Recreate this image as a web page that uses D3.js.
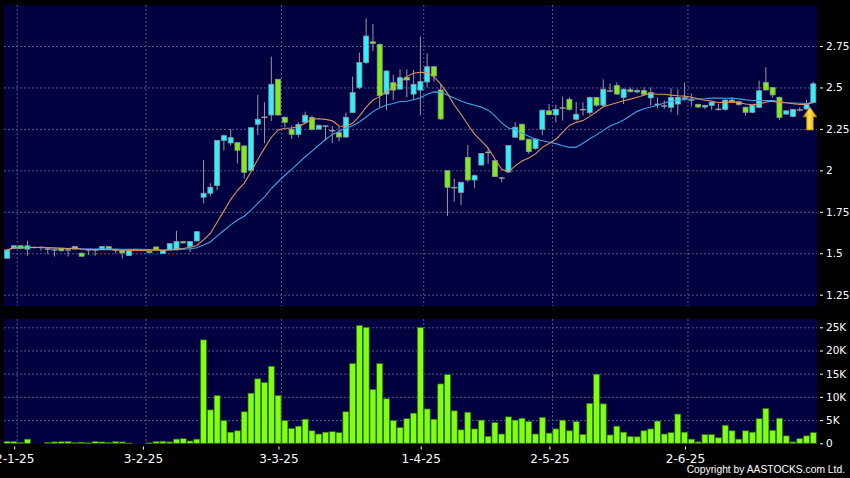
<!DOCTYPE html>
<html><head><meta charset="utf-8">
<script src="https://cdn.jsdelivr.net/npm/d3@7"></script>
<style>html,body{margin:0;padding:0;background:#000;overflow:hidden}svg{display:block}</style>
</head><body><svg id="c" width="850" height="478"></svg>
<script>
// ---- data ----
const opens  = [1.470,1.530,1.545,1.525,1.535,1.535,1.525,1.520,1.530,1.520,1.525,1.500,1.520,1.520,1.525,1.540,1.520,1.518,1.486,1.522,
 1.518,1.510,1.538,1.498,1.520,1.520,1.570,1.542,1.574,1.838,1.862,1.908,2.181,2.165,2.167,2.147,2.000,2.278,2.320,2.334,
 2.549,2.320,2.247,2.217,2.290,2.318,2.249,2.267,2.239,2.227,2.201,2.348,2.500,2.651,2.775,2.760,2.460,2.529,2.490,2.560,
 2.460,2.484,2.533,2.625,2.485,1.998,1.896,1.867,2.078,1.942,2.032,2.108,2.058,1.954,1.990,2.200,2.278,2.188,2.132,2.248,
 2.359,2.334,2.376,2.428,2.308,2.366,2.348,2.439,2.393,2.479,2.512,2.440,2.486,2.473,2.481,2.437,2.398,2.388,2.380,2.400,
 2.434,2.424,2.398,2.382,2.392,2.368,2.368,2.424,2.414,2.380,2.350,2.380,2.529,2.499,2.440,2.339,2.325,2.364,2.370,2.409];
const highs  = [1.525,1.550,1.548,1.575,1.540,1.540,1.530,1.522,1.532,1.522,1.545,1.505,1.522,1.522,1.542,1.542,1.522,1.520,1.520,1.524,
 1.520,1.512,1.540,1.520,1.560,1.635,1.574,1.572,1.632,2.062,1.922,2.181,2.215,2.250,2.170,2.150,2.260,2.455,2.410,2.686,
 2.552,2.325,2.270,2.290,2.354,2.330,2.275,2.270,2.267,2.265,2.348,2.565,2.710,2.917,2.883,2.765,2.605,2.576,2.610,2.610,
 2.605,2.806,2.705,2.630,2.515,2.000,1.950,1.930,2.152,1.975,2.105,2.135,2.060,1.958,2.152,2.290,2.282,2.190,2.192,2.365,
 2.400,2.395,2.445,2.440,2.412,2.410,2.445,2.442,2.548,2.525,2.530,2.495,2.500,2.490,2.500,2.500,2.440,2.420,2.495,2.489,
 2.530,2.464,2.402,2.395,2.415,2.400,2.428,2.440,2.420,2.385,2.395,2.541,2.621,2.502,2.445,2.362,2.370,2.380,2.425,2.535];
const lows   = [1.465,1.525,1.525,1.485,1.530,1.515,1.495,1.480,1.510,1.480,1.520,1.480,1.490,1.485,1.520,1.520,1.500,1.470,1.484,1.520,
 1.516,1.500,1.518,1.495,1.518,1.518,1.560,1.506,1.572,1.801,1.845,1.880,2.120,2.150,2.042,1.952,1.995,2.213,2.163,2.298,
 2.330,2.260,2.190,2.200,2.285,2.240,2.245,2.180,2.165,2.175,2.195,2.345,2.490,2.640,2.720,2.380,2.364,2.425,2.485,2.440,
 2.425,2.334,2.500,2.535,2.305,1.725,1.811,1.790,1.930,1.892,2.030,2.040,1.960,1.928,1.985,2.195,2.180,2.100,2.125,2.212,
 2.330,2.290,2.300,2.360,2.300,2.330,2.335,2.385,2.385,2.470,2.455,2.400,2.470,2.465,2.455,2.390,2.375,2.370,2.350,2.334,
 2.420,2.384,2.375,2.370,2.365,2.360,2.360,2.410,2.390,2.330,2.345,2.375,2.480,2.440,2.303,2.335,2.320,2.355,2.365,2.405];
const closes = [1.520,1.545,1.530,1.545,1.535,1.535,1.525,1.520,1.515,1.520,1.540,1.482,1.520,1.520,1.540,1.525,1.520,1.502,1.518,1.522,
 1.518,1.504,1.520,1.516,1.558,1.570,1.562,1.570,1.630,1.862,1.898,2.181,2.209,2.197,2.121,1.988,2.257,2.308,2.320,2.519,
 2.334,2.290,2.217,2.276,2.332,2.247,2.272,2.267,2.239,2.201,2.320,2.469,2.651,2.810,2.765,2.452,2.599,2.484,2.559,2.545,
 2.519,2.535,2.625,2.569,2.310,1.898,1.896,1.928,1.942,1.968,2.102,2.108,1.962,1.954,2.150,2.260,2.184,2.113,2.189,2.363,
 2.336,2.368,2.376,2.368,2.338,2.366,2.439,2.393,2.489,2.479,2.460,2.489,2.474,2.481,2.459,2.469,2.398,2.388,2.440,2.440,
 2.438,2.424,2.382,2.392,2.412,2.368,2.424,2.412,2.398,2.350,2.392,2.480,2.485,2.455,2.319,2.359,2.368,2.364,2.398,2.522];
// volume in thousands of shares
const volumes = [0.4,0.4,0.2,0.9,0,0,0.2,0.3,0.35,0.4,0.15,0.25,0.1,0.4,0.3,0.2,0.35,0.3,0.05,0,
 0,0.1,0.4,0.45,0.3,0.9,1.0,0.5,0.9,22.3,7.2,10.3,4.9,2.4,2.7,6.8,10.8,13.9,13.1,16.6,
 10.3,4.9,3.2,3.7,5.2,2.7,2.0,2.4,2.5,2.3,6.8,17.2,25.4,25.0,11.6,17.2,9.6,4.9,3.4,5.3,
 6.5,25.0,7.4,5.2,12.8,14.8,7.0,2.9,6.7,3.1,5.0,1.5,4.5,2.0,5.7,5.0,5.4,4.7,2.0,5.6,
 2.2,3.1,5.0,2.7,4.7,1.9,8.6,14.9,8.5,1.8,3.7,2.4,1.5,1.4,2.7,3.1,4.8,2.0,2.3,6.3,
 2.4,0.9,0.3,1.9,1.9,1.2,3.9,2.7,0.9,2.7,2.4,5.3,7.5,2.8,5.4,1.6,0.3,1.0,1.6,2.3];
const monthStartIdx = [2,21,41,62,81,101];
const monthLabels = ["2-1-25","3-2-25","3-3-25","1-4-25","2-5-25","2-6-25"];
const priceTicks = [1.25,1.5,1.75,2,2.25,2.5,2.75];
const priceTickLabels = ["1.25","1.5","1.75","2","2.25","2.5","2.75"];
const volTicks = [0,5,10,15,20,25];
const volTickLabels = ["0","5K","10K","15K","20K","25K"];
const maPeriods = [10,20];
const arrowAt = {idx:118.5, tip:2.382, head:2.322, base:2.243};

// ---- layout ----
const N = closes.length;
const P = {l:4, r:817, t:5, b:306};
const V = {t:319, b:444};
const x = d3.scaleLinear().domain([0, N-1]).range([7.1, 813.3]);
const step = x(1)-x(0);
const yP = d3.scaleLinear().domain([1.25, 2.75]).range([294.7, 46]);
const yV = d3.scaleLinear().domain([0, 25]).range([443.3, 327.3]);

const svg = d3.select("#c");
svg.append("rect").attr("width",850).attr("height",478).attr("fill","#000");
const defs = svg.append("defs");
defs.append("clipPath").attr("id","cp").append("rect")
  .attr("x",P.l).attr("y",P.t).attr("width",P.r-P.l).attr("height",P.b-P.t);
defs.append("clipPath").attr("id","cv").append("rect")
  .attr("x",P.l).attr("y",V.t).attr("width",P.r-P.l).attr("height",V.b-V.t);
const grad = defs.append("linearGradient").attr("id","ag").attr("x1",0).attr("x2",1).attr("y1",0).attr("y2",0);
grad.append("stop").attr("offset","0%").attr("stop-color","#c08000");
grad.append("stop").attr("offset","45%").attr("stop-color","#ffe34a");
grad.append("stop").attr("offset","100%").attr("stop-color","#d89a00");

svg.append("rect").attr("x",P.l).attr("y",P.t).attr("width",P.r-P.l).attr("height",P.b-P.t).attr("fill","#000040");
svg.append("rect").attr("x",P.l).attr("y",V.t).attr("width",P.r-P.l).attr("height",V.b-V.t).attr("fill","#000040");

const gridColor = "#56568a";
const gridX = monthStartIdx.map(i => x(i-0.5));
// price grid
const gp = svg.append("g").attr("clip-path","url(#cp)");
gp.selectAll("line.h").data(priceTicks).join("line")
  .attr("x1",P.l).attr("x2",P.r).attr("y1",d=>yP(d)+0.5).attr("y2",d=>yP(d)+0.5)
  .attr("stroke",gridColor).attr("stroke-dasharray","2,2");
gp.selectAll("line.v").data(gridX).join("line")
  .attr("x1",d=>d).attr("x2",d=>d).attr("y1",P.t).attr("y2",P.b)
  .attr("stroke",gridColor).attr("stroke-dasharray","2,2");
// volume grid
const gv = svg.append("g").attr("clip-path","url(#cv)");
gv.selectAll("line.h").data(volTicks.slice(1)).join("line")
  .attr("x1",P.l).attr("x2",P.r).attr("y1",d=>yV(d)+0.5).attr("y2",d=>yV(d)+0.5)
  .attr("stroke",gridColor).attr("stroke-dasharray","2,2");
gv.selectAll("line.v").data(gridX).join("line")
  .attr("x1",d=>d).attr("x2",d=>d).attr("y1",V.t).attr("y2",V.b)
  .attr("stroke",gridColor).attr("stroke-dasharray","2,2");

// candles
const bw = 5;
const data = d3.range(N).map(i => ({i, o:opens[i], h:highs[i], l:lows[i], c:closes[i], v:volumes[i]}));
const gc = gp.append("g");
gc.selectAll("line.w").data(data).join("line")
  .attr("x1",d=>x(d.i)).attr("x2",d=>x(d.i)).attr("y1",d=>yP(d.h)).attr("y2",d=>yP(d.l))
  .attr("stroke","#9a9a9a").attr("stroke-width",1);
gc.selectAll("rect.b").data(data.filter(d=>d.o!==d.c)).join("rect")
  .attr("x",d=>x(d.i)-bw/2).attr("width",bw)
  .attr("y",d=>yP(Math.max(d.o,d.c)))
  .attr("height",d=>Math.max(1, yP(Math.min(d.o,d.c))-yP(Math.max(d.o,d.c))))
  .attr("fill",d=>d.c>d.o?"#2cf2ff":"#80ee10")
  .attr("stroke","#8c9a9a").attr("stroke-width",0.8);
gc.selectAll("line.d").data(data.filter(d=>d.o===d.c)).join("line")
  .attr("x1",d=>x(d.i)-bw/2-0.5).attr("x2",d=>x(d.i)+bw/2+0.5)
  .attr("y1",d=>yP(d.c)).attr("y2",d=>yP(d.c))
  .attr("stroke","#a0a0a0").attr("stroke-width",1.4);

// moving averages derived from closes
const maColors = ["#e0925e","#3ea4e6"];
maPeriods.slice().reverse().forEach((p,k)=>{
  const ci = maPeriods.length-1-k;
  const ma = closes.map((c,i)=>{ const s=Math.max(0,i-p+1); return d3.mean(closes.slice(s,i+1)); });
  gp.append("path").datum(ma)
    .attr("d", d3.line().x((d,i)=>x(i)).y(d=>yP(d)))
    .attr("fill","none").attr("stroke",maColors[ci]).attr("stroke-width",1.1);
});

// arrow
const ax = x(arrowAt.idx), ty=yP(arrowAt.tip), hy=yP(arrowAt.head), by=yP(arrowAt.base);
gp.append("path")
  .attr("d",`M${ax},${ty} L${ax+7},${hy} L${ax+3.5},${hy} L${ax+3.5},${by} L${ax-3.5},${by} L${ax-3.5},${hy} L${ax-7},${hy} Z`)
  .attr("fill","url(#ag)").attr("stroke","#a06a00").attr("stroke-width",0.6);

// volume bars
gv.selectAll("rect.vb").data(data.filter(d=>d.v>0)).join("rect")
  .attr("x",d=>x(d.i)-step/2+0.4).attr("width",step-0.8)
  .attr("y",d=>yV(d.v)).attr("height",d=>Math.max(0.8,yV(0)-yV(d.v)))
  .attr("fill","#80ff14").attr("stroke","#2f6a00").attr("stroke-width",0.7);

// axes
const font = "DejaVu Sans, Verdana, sans-serif";
function styleAxis(g){
  g.select(".domain").remove();
  g.selectAll(".tick line").attr("stroke","#ffffff");
  g.selectAll(".tick text").attr("fill","#ffffff").style("font-family",font);
}
svg.append("g").attr("transform",`translate(${P.r+3},0)`)
  .call(d3.axisRight(yP).tickValues(priceTicks).tickFormat((d,i)=>priceTickLabels[i]).tickSize(3).tickPadding(3))
  .call(styleAxis).selectAll("text").style("font-size","10.5px");
svg.append("g").attr("transform",`translate(${P.r+3},0)`)
  .call(d3.axisRight(yV).tickValues(volTicks).tickFormat((d,i)=>volTickLabels[i]).tickSize(3).tickPadding(3))
  .call(styleAxis).selectAll("text").style("font-size","10.5px");
svg.append("g").attr("transform",`translate(0,446.5)`)
  .call(d3.axisBottom(x).tickValues(monthStartIdx.map(i=>i-0.95)).tickFormat((d,i)=>monthLabels[i]).tickSize(3).tickPadding(5))
  .call(styleAxis).selectAll("text").style("font-size","12px");

svg.append("text").attr("x",845).attr("y",473).attr("text-anchor","end")
  .attr("fill","#fff").style("font-family","Liberation Sans, Arial, sans-serif").style("font-size","10.3px")
  .text("Copyright by AASTOCKS.com Ltd.");
</script></body></html>
